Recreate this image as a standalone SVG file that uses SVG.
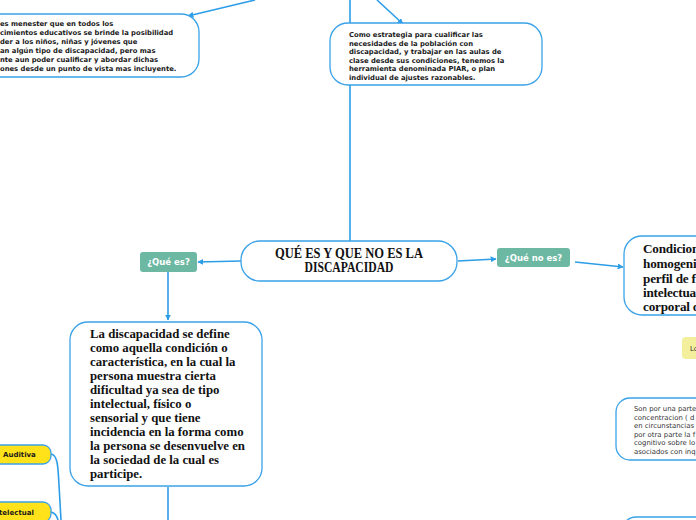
<svg xmlns="http://www.w3.org/2000/svg" width="696" height="520" viewBox="0 0 696 520">
<style>
.box{fill:#fff;stroke:#3aa2e8;stroke-width:1.3}
.con{fill:none;stroke:#2d9de8;stroke-width:1.6}
.sb{font-family:"DejaVu Sans",Verdana,sans-serif;font-weight:bold;font-size:6.8px;fill:#1a1a1a}
.sr{font-family:"DejaVu Sans",Verdana,sans-serif;font-size:6.9px;fill:#333}
.serif{font-family:"Liberation Serif","Times New Roman",serif;font-weight:bold;fill:#111}
.tag{fill:#6cb8a2}
.tagt{font-family:"DejaVu Sans",Verdana,sans-serif;font-weight:bold;font-size:8.5px;fill:#fff;text-anchor:middle}
.yel{fill:#ffe21a;stroke:#3aa2e8;stroke-width:1.3}
.yt{font-family:"DejaVu Sans",Verdana,sans-serif;font-weight:bold;font-size:7px;fill:#1a1a1a}
</style>
<defs>
<marker id="ah" viewBox="0 0 10 10" refX="9" refY="5" markerWidth="6" markerHeight="6" markerUnits="userSpaceOnUse" orient="auto">
<path d="M0,0 L10,5 L0,10 z" fill="#2d9de8"/>
</marker>
</defs>
<rect width="696" height="520" fill="#fff"/>
<g id="connectors">
<line class="con" x1="350" y1="0" x2="350" y2="241"/>
<line class="con" x1="255" y1="0" x2="188" y2="16" marker-end="url(#ah)"/>
<line class="con" x1="377" y1="0" x2="403" y2="24" marker-end="url(#ah)"/>
<line class="con" x1="241" y1="261" x2="198" y2="262" marker-end="url(#ah)"/>
<line class="con" x1="168" y1="272" x2="168" y2="320" marker-end="url(#ah)"/>
<line class="con" x1="168" y1="487" x2="168" y2="520"/>
<line class="con" x1="458" y1="261" x2="496" y2="259" marker-end="url(#ah)"/>
<line class="con" x1="575" y1="262" x2="623" y2="267" marker-end="url(#ah)"/>
<path class="con" d="M51 454 C58 455,58 468,59 485 L61 520"/>
<path class="con" d="M51 512 C55 513,57 516,58 520"/>
</g>
<g id="node-top-left">
<rect class="box" x="-30" y="14" width="229" height="63" rx="18"/>
<text class="sb" x="0" y="26">es menester que en todos los</text>
<text class="sb" x="0" y="35">cimientos educativos se brinde la posibilidad</text>
<text class="sb" x="0" y="44">der a los niños, niñas y jóvenes que</text>
<text class="sb" x="0" y="53">an algún tipo de discapacidad, pero mas</text>
<text class="sb" x="0" y="62">nte aun poder cualificar y abordar dichas</text>
<text class="sb" x="0" y="71">ones desde un punto de vista mas incluyente.</text>
</g>
<g id="node-top-right">
<rect class="box" x="330" y="23" width="212" height="62" rx="18"/>
<text class="sb" x="349" y="37">Como estrategia para cualificar las</text>
<text class="sb" x="349" y="45.5">necesidades de la población con</text>
<text class="sb" x="349" y="54">discapacidad, y trabajar en las aulas de</text>
<text class="sb" x="349" y="62.5">clase desde sus condiciones, tenemos la</text>
<text class="sb" x="349" y="71">herramienta denominada PIAR, o plan</text>
<text class="sb" x="349" y="79.5">individual de ajustes razonables.</text>
</g>
<g id="node-center">
<rect class="box" x="241" y="241" width="216" height="40" rx="19"/>
<text class="serif" x="349" y="258" font-size="14" text-anchor="middle" textLength="148" lengthAdjust="spacingAndGlyphs">QUÉ ES Y QUE NO ES LA</text>
<text class="serif" x="349" y="272" font-size="14" text-anchor="middle" textLength="89" lengthAdjust="spacingAndGlyphs">DISCAPACIDAD</text>
</g>
<g id="node-que-es">
<rect class="tag" x="140" y="252" width="57" height="20" rx="3"/>
<text class="tagt" x="168.5" y="265">¿Qué es?</text>
</g>
<g id="node-que-no-es">
<rect class="tag" x="497" y="248" width="73" height="19" rx="3"/>
<text class="tagt" x="533.5" y="260.5">¿Qué no es?</text>
</g>
<g id="node-definicion">
<rect class="box" x="70" y="322" width="192" height="164" rx="18"/>
<g class="serif" font-size="12.8">
<text x="90" y="338">La discapacidad se define</text>
<text x="90" y="352">como aquella condición o</text>
<text x="90" y="366">característica, en la cual la</text>
<text x="90" y="380">persona muestra cierta</text>
<text x="90" y="394">dificultad ya sea de tipo</text>
<text x="90" y="408">intelectual, físico o</text>
<text x="90" y="422">sensorial y que tiene</text>
<text x="90" y="436">incidencia en la forma como</text>
<text x="90" y="450">la persona se desenvuelve en</text>
<text x="90" y="464">la sociedad de la cual es</text>
<text x="90" y="478">participe.</text>
</g>
</g>
<g id="node-no-es">
<rect class="box" x="624" y="236" width="100" height="79" rx="18"/>
<g class="serif" font-size="13.2" letter-spacing="-0.2">
<text x="643" y="253">Condicion</text>
<text x="643" y="268">homogeni</text>
<text x="643" y="283">perfil de f</text>
<text x="643" y="297">intelectua</text>
<text x="643" y="311">corporal d</text>
</g>
</g>
<g id="node-lo">
<rect x="682" y="337" width="40" height="22" rx="4" fill="#f4ef9c"/>
<text class="sr" x="690" y="351" font-size="8">Lo</text>
</g>
<g id="node-son">
<rect class="box" x="616" y="398" width="110" height="62" rx="14"/>
<text class="sr" x="634" y="411">Son por una parte</text>
<text class="sr" x="634" y="419.5">concentracion ( d</text>
<text class="sr" x="634" y="428">en circunstancias</text>
<text class="sr" x="634" y="436.5">por otra parte la f</text>
<text class="sr" x="634" y="445">cognitivo sobre lo</text>
<text class="sr" x="634" y="453.5">asociados con inq</text>
</g>
<g id="node-bottom-right">
<rect class="box" x="622" y="517" width="110" height="40" rx="14"/>
</g>
<g id="node-auditiva">
<rect class="yel" x="-10" y="445" width="61" height="19" rx="8"/>
<text class="yt" x="3" y="457">Auditiva</text>
</g>
<g id="node-intelectual">
<rect class="yel" x="-10" y="502" width="61" height="20" rx="8"/>
<text class="yt" x="-1" y="515">telectual</text>
</g>
</svg>
